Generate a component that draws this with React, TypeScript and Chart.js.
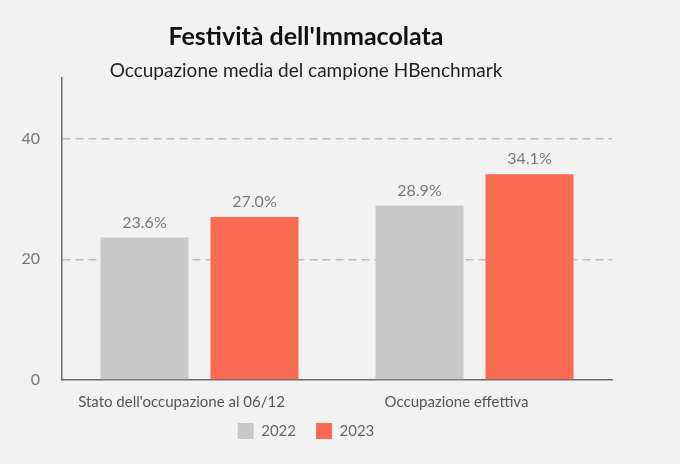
import { useEffect, useRef } from "react"
import { Chart, registerables } from "chart.js"

Chart.register(...registerables)

const categories = ["Stato dell'occupazione al 06/12", "Occupazione effettiva"]
const seriesNames = ["2022", "2023"]
const values2022 = [23.6, 28.9]
const values2023 = [27.0, 34.1]
const yTicks = [0, 20, 40]

const GRAY = "#C8C8C8"
const RED = "#F96A52"

// writes the % value above every bar
const valueLabels = {
  id: "valueLabels",
  afterDatasetsDraw(chart: any) {
    const { ctx } = chart
    ctx.save()
    ctx.font = "16px Lato"
    ctx.fillStyle = "#7a7a7a"
    ctx.textAlign = "center"
    ctx.textBaseline = "bottom"
    chart.data.datasets.forEach((ds: any, i: number) => {
      const meta = chart.getDatasetMeta(i)
      meta.data.forEach((bar: any, j: number) => {
        ctx.fillText(ds.data[j].toFixed(1) + "%", bar.x, bar.y - 7)
      })
    })
    ctx.restore()
  },
}

// pulls the legend a bit closer to the axis labels
const legendNudge = {
  id: "legendNudge",
  afterLayout(chart: any) {
    if (chart.legend) {
      chart.legend.top -= 8
      chart.legend.bottom -= 8
    }
  },
}

export default function App() {
  const canvasRef = useRef<HTMLCanvasElement | null>(null)
  const chartRef = useRef<Chart | null>(null)

  useEffect(() => {
    if (!canvasRef.current) return
    const ctx = canvasRef.current.getContext("2d")
    if (!ctx) return

    Chart.defaults.font.family = "Lato"

    chartRef.current = new Chart(ctx, {
      type: "bar",
      data: {
        labels: categories,
        datasets: [
          {
            label: seriesNames[0],
            data: values2022,
            backgroundColor: GRAY,
          },
          {
            label: seriesNames[1],
            data: values2023,
            backgroundColor: RED,
          },
        ],
      },
      options: {
        animation: false,
        responsive: true,
        maintainAspectRatio: false,
        categoryPercentage: 0.8,
        barPercentage: 0.8,
        layout: { padding: { left: 0, right: 68, bottom: 7 } },
        plugins: {
          title: {
            display: true,
            text: "Festività dell'Immacolata",
            color: "#111",
            font: { size: 25, weight: "bold", lineHeight: 1.0 },
            padding: { top: 24, bottom: 14 },
          },
          subtitle: {
            display: true,
            text: "Occupazione media del campione HBenchmark",
            color: "#222",
            font: { size: 19, lineHeight: 0.8 },
            padding: { top: 0, bottom: 0 },
          },
          legend: {
            position: "bottom",
            labels: {
              boxWidth: 16,
              boxHeight: 16,
              padding: 20,
              color: "#666",
              font: { size: 15 },
            },
          },
          tooltip: { enabled: false },
        },
        scales: {
          x: {
            grid: { display: false, drawTicks: false },
            border: { display: true, color: "#6b6b6b", width: 1.5 },
            ticks: {
              color: "#555",
              font: { size: 15 },
              padding: 13,
              labelOffset: -18,
              maxRotation: 0,
              minRotation: 0,
            },
            afterFit: (scale: any) => {
              scale.height = 31
            },
          },
          y: {
            min: 0,
            max: 50,
            afterBuildTicks: (axis: any) => {
              axis.ticks = yTicks.map((v) => ({ value: v }))
            },
            afterFit: (scale: any) => {
              scale.width = 62
            },
            grid: {
              drawTicks: false,
              color: (c: any) => (c.tick && c.tick.value === 0 ? "transparent" : "#bdbdbd"),
              lineWidth: 1.5,
            },
            border: { display: true, color: "#6b6b6b", width: 1.5, dash: [8, 5] },
            ticks: { color: "#777", font: { size: 16 }, padding: 22 },
          },
        },
      },
      plugins: [valueLabels, legendNudge],
    })

    return () => {
      if (chartRef.current) {
        chartRef.current.destroy()
        chartRef.current = null
      }
    }
  }, [])

  return (
    <div
      style={{
        position: "fixed",
        top: 0,
        left: 0,
        width: 680,
        height: 464,
        background: "#F2F2F2",
      }}
    >
      <canvas ref={canvasRef}></canvas>
    </div>
  )
}
